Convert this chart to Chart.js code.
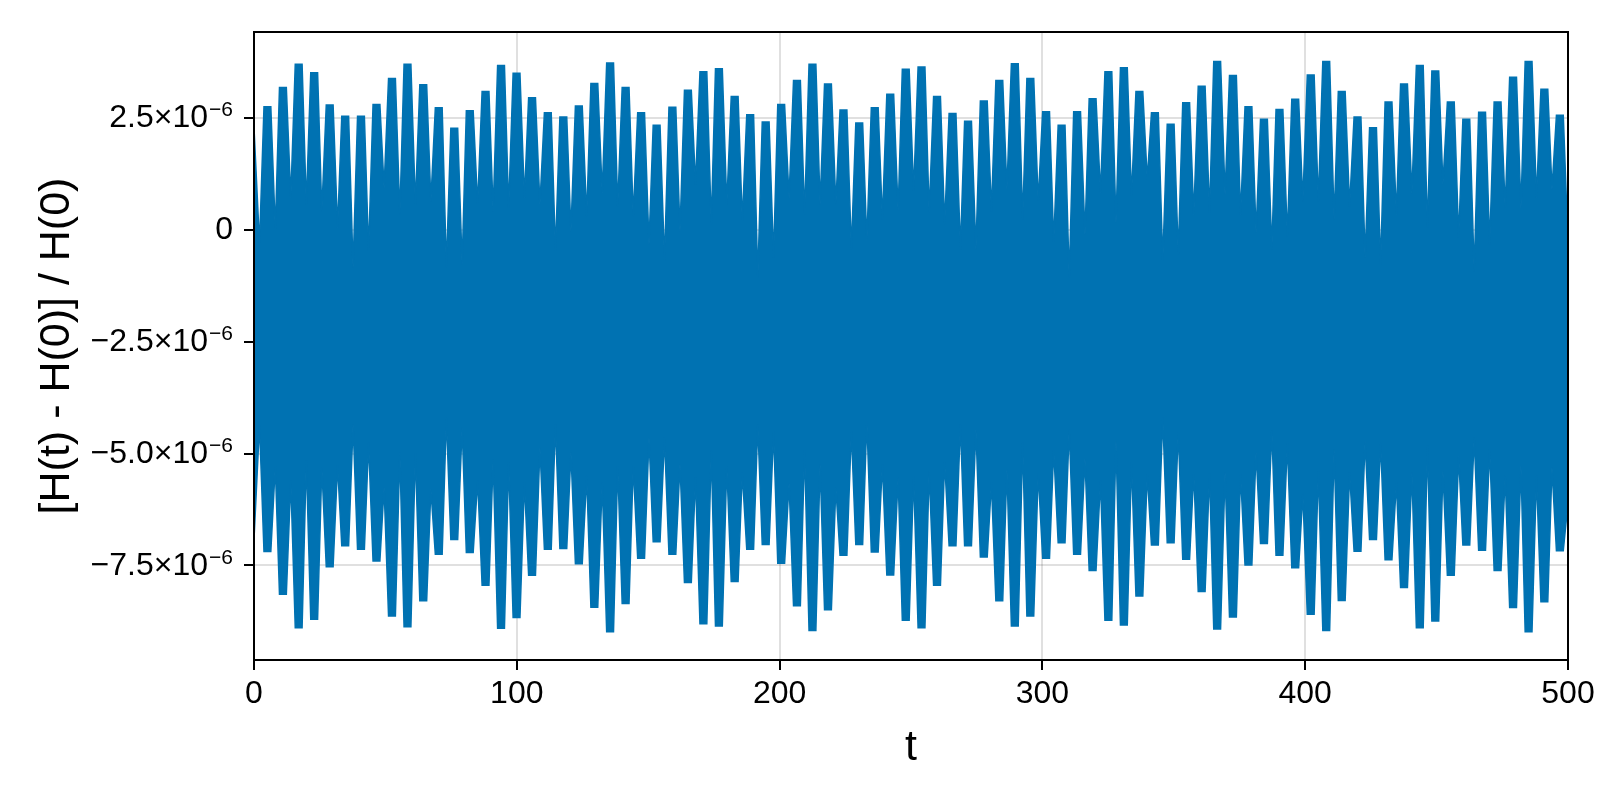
<!DOCTYPE html>
<html>
<head>
<meta charset="utf-8">
<script src="https://cdn.jsdelivr.net/npm/chart.js@4.4.1/dist/chart.umd.min.js"></script>
<style>
  html, body { margin: 0; padding: 0; background: #fff; }
  #wrap { width: 1600px; height: 800px; }
</style>
</head>
<body>
<div id="wrap"><canvas id="energy-chart" width="1600" height="800"></canvas></div>
<script>
// values in units of 1e-6
// teeth = the bursts of the fast oscillation, gaps = the notches between them
const toothT = [5.1, 11.0, 17.0, 22.9, 28.8, 34.7, 40.7, 46.6, 52.5, 58.4, 64.4, 70.3, 76.2, 82.1, 88.1, 94.0, 99.9, 105.8, 111.8, 117.7,
  123.6, 129.5, 135.5, 141.4, 147.3, 153.2, 159.2, 165.1, 171.0, 176.9, 182.9, 188.8, 194.7, 200.6, 206.6, 212.5, 218.4, 224.3, 230.3, 236.2, 242.1,
  248.0, 254.0, 259.9, 265.8, 271.7, 277.7, 283.6, 289.5, 295.4, 301.4, 307.3, 313.2, 319.1, 325.1, 331.0, 336.9, 342.8, 348.8, 354.7, 360.6, 366.5,
  372.5, 378.4, 384.3, 390.2, 396.2, 402.1, 408.0, 413.9, 419.9, 425.8, 431.7, 437.6, 443.6, 449.5, 455.4, 461.3, 467.3, 473.2, 479.1, 485.0, 491.0,
  496.9];

const toothTop = [2.74, 3.17, 3.69, 3.50, 2.78, 2.53, 2.53, 2.79, 3.37, 3.69, 3.23, 2.72, 2.26, 2.65, 3.08, 3.66, 3.49, 2.94, 2.61, 2.51,
  2.76, 3.26, 3.72, 3.17, 2.61, 2.33, 2.73, 3.11, 3.52, 3.59, 2.97, 2.56, 2.40, 2.79, 3.33, 3.69, 3.25, 2.67, 2.38, 2.72, 3.02,
  3.58, 3.63, 2.97, 2.59, 2.42, 2.87, 3.33, 3.70, 3.37, 2.63, 2.33, 2.63, 2.92, 3.52, 3.61, 3.08, 2.61, 2.35, 2.83, 3.20, 3.75,
  3.44, 2.74, 2.46, 2.68, 2.91, 3.45, 3.75, 3.08, 2.51, 2.27, 2.85, 3.25, 3.66, 3.54, 2.85, 2.46, 2.62, 2.85, 3.40, 3.75, 3.13,
  2.55];

const toothBottom = [-7.19, -8.14, -8.89, -8.70, -7.53, -7.06, -7.14, -7.40, -8.63, -8.87, -8.29, -7.25, -6.92, -7.21, -7.94, -8.90, -8.66, -7.72, -7.14, -7.12,
  -7.46, -8.43, -8.98, -8.35, -7.34, -6.97, -7.25, -7.88, -8.80, -8.85, -7.86, -7.14, -7.03, -7.45, -8.40, -8.95, -8.49, -7.27, -7.03, -7.20, -7.71,
  -8.72, -8.89, -7.94, -7.06, -7.06, -7.31, -8.29, -8.85, -8.63, -7.34, -6.99, -7.25, -7.61, -8.72, -8.83, -8.18, -7.04, -6.99, -7.36, -8.08, -8.92,
  -8.65, -7.49, -7.01, -7.27, -7.55, -8.59, -8.95, -8.28, -7.18, -6.92, -7.37, -7.99, -8.89, -8.74, -7.72, -7.04, -7.16, -7.61, -8.44, -8.98, -8.31,
  -7.17];

// gap times include both ends of the run (t = 0 and t = 500)
const gapT = [0, 2.1, 8.1, 14.0, 19.9, 25.8, 31.8, 37.7, 43.6, 49.5, 55.5, 61.4, 67.3, 73.2, 79.2, 85.1, 91.0, 96.9, 102.9, 108.8, 114.7,
  120.6, 126.6, 132.5, 138.4, 144.3, 150.3, 156.2, 162.1, 168.0, 174.0, 179.9, 185.8, 191.7, 197.7, 203.6, 209.5, 215.4, 221.4, 227.3, 233.2, 239.1,
  245.1, 251.0, 256.9, 262.8, 268.8, 274.7, 280.6, 286.5, 292.5, 298.4, 304.3, 310.2, 316.2, 322.1, 328.0, 333.9, 339.9, 345.8, 351.7, 357.6, 363.6,
  369.5, 375.4, 381.3, 387.3, 393.2, 399.1, 405.0, 411.0, 416.9, 422.8, 428.7, 434.7, 440.6, 446.5, 452.4, 458.4, 464.3, 470.2, 476.1, 482.1, 488.0,
  493.9, 500];

const gapTop = [2.27, -0.33, 0.00, 0.71, 0.56, 0.41, 0.04, -0.85, -0.48, 0.93, 0.33, 0.56, 0.63, -0.85, -0.78, 0.56, 0.41, 0.48, 0.71, 0.56, -0.48, -0.04,
  0.30, 0.82, 0.52, 0.30, -0.33, -0.70, -0.04, 1.01, 0.12, 0.56, 0.19, -1.08, -0.63, 0.71, 0.33, 0.56, 0.56, -0.44, -0.26, 0.23,
  0.41, 0.86, 0.38, 0.12, -0.44, -0.44, 0.41, 0.90, 0.23, 0.63, -0.29, -1.08, -0.11, 0.82, 0.15, 0.75, 1.12, -0.70, -0.55, 0.33, 0.38,
  0.79, 0.33, -0.07, -0.44, -0.15, 0.63, 0.63, 0.23, 0.52, -0.63, -0.78, 0.33, 0.81, 0.04, 1.01, -0.18, -0.93, -0.33, 0.48, 0.48, 0.71,
  0.90, -0.30];

const gapBottom = [-6.92, -4.35, -5.28, -5.61, -5.15, -5.30, -5.26, -4.35, -4.76, -5.76, -4.98, -5.00, -5.80, -4.20, -4.42, -5.60, -5.13, -5.20, -5.65, -4.87, -4.35, -4.98,
  -5.50, -5.65, -5.28, -5.28, -4.65, -4.65, -5.24, -5.54, -4.93, -5.28, -5.43, -4.35, -4.50, -5.67, -4.91, -5.24, -5.76, -4.50, -4.27, -5.24,
  -5.54, -5.50, -5.39, -5.18, -4.35, -4.46, -5.65, -5.35, -4.76, -5.43, -4.91, -4.46, -5.13, -5.61, -4.72, -5.20, -5.46, -4.19, -4.50, -5.43, -5.45,
  -5.43, -5.46, -4.97, -4.48, -4.78, -5.90, -5.38, -4.91, -5.43, -4.72, -4.76, -5.65, -5.43, -4.83, -5.39, -5.06, -4.65, -4.91, -5.50, -5.28, -5.50,
  -5.32, -6.10];

const xTicks = [0, 100, 200, 300, 400, 500];
const yTicks = [-7.5, -5, -2.5, 0, 2.5];
const yTickMant = ["\u22127.5\u00d710", "\u22125.0\u00d710", "\u22122.5\u00d710", "0", "2.5\u00d710"];
const yTickExp = ["\u22126", "\u22126", "\u22126", "", "\u22126"];

const blue = "rgb(0, 114, 178)";
const fam = "'Liberation Sans', Arimo, Arial, sans-serif";
const plateau = 1.3; // half width of the flat top of a tooth, in t

// one envelope: gap, tooth (flat top), gap, tooth ...
const buildEnvelope = (tops, gaps) => {
  const pts = [{ x: gapT[0], y: gaps[0] }];
  toothT.forEach((t, k) => {
    pts.push({ x: gapT[k + 1], y: gaps[k + 1] });
    pts.push({ x: t - plateau, y: tops[k] });
    pts.push({ x: t + plateau, y: tops[k] });
  });
  pts.push({ x: gapT[gapT.length - 1], y: gaps[gaps.length - 1] });
  return pts;
};

const upper = buildEnvelope(toothTop, gapTop);
const lower = buildEnvelope(toothBottom, gapBottom);

// frame on top of the data, like the reference
const framePlugin = {
  id: "frame",
  afterDatasetsDraw(chart) {
    const { ctx, chartArea: a } = chart;
    ctx.save();
    ctx.strokeStyle = "#000";
    ctx.lineWidth = 2;
    ctx.strokeRect(a.left, a.top, a.right - a.left, a.bottom - a.top);
    ctx.restore();
  },
};

// y tick labels with a raised exponent
const yLabelPlugin = {
  id: "yLabels",
  afterDraw(chart) {
    const { ctx } = chart;
    const y = chart.scales.y;
    const right = y.right - 10 - 11;
    ctx.save();
    ctx.fillStyle = "#000";
    ctx.textBaseline = "middle";
    yTicks.forEach((v, i) => {
      const py = y.getPixelForValue(v);
      ctx.font = `21px ${fam}`;
      const ew = yTickExp[i] ? ctx.measureText(yTickExp[i]).width + 1 : 0;
      ctx.font = `32px ${fam}`;
      ctx.textAlign = "right";
      ctx.fillText(yTickMant[i], right - ew, py + 1);
      if (yTickExp[i]) {
        ctx.font = `21px ${fam}`;
        ctx.textAlign = "left";
        ctx.fillText(yTickExp[i], right - ew + 1, py - 7);
      }
    });
    ctx.restore();
  },
};

const gridColor = "rgba(0, 0, 0, 0.12)";

new Chart(document.getElementById("energy-chart"), {
  type: "line",
  data: {
    datasets: [
      {
        data: upper,
        borderColor: blue,
        backgroundColor: blue,
        borderWidth: 1.5,
        pointRadius: 0,
        tension: 0,
        fill: false,
      },
      {
        data: lower,
        borderColor: blue,
        backgroundColor: blue,
        borderWidth: 1.5,
        pointRadius: 0,
        tension: 0,
        fill: "-1",
      },
    ],
  },
  options: {
    responsive: false,
    animation: false,
    devicePixelRatio: 1,
    parsing: false,
    normalized: true,
    layout: { padding: { top: 32, right: 32, left: 0, bottom: 0 } },
    plugins: {
      legend: { display: false },
      tooltip: { enabled: false },
    },
    scales: {
      x: {
        type: "linear",
        min: 0,
        max: 500,
        afterBuildTicks: (s) => {
          s.ticks = xTicks.map((v) => ({ value: v }));
        },
        afterFit: (s) => {
          s.height = 140;
        },
        ticks: {
          color: "#000",
          font: { family: fam, size: 32 },
          padding: 5,
          maxRotation: 0,
        },
        grid: {
          color: gridColor,
          lineWidth: 2,
          tickColor: "#000",
          tickLength: 10,
          tickWidth: 2,
        },
        border: { display: false },
        title: {
          display: true,
          text: "t",
          color: "#000",
          font: { family: fam, size: 43 },
          padding: { top: 0, bottom: 26 },
        },
      },
      y: {
        type: "linear",
        min: -9.61,
        max: 4.41,
        afterBuildTicks: (s) => {
          s.ticks = yTicks.map((v) => ({ value: v }));
        },
        afterFit: (s) => {
          s.width = 254;
        },
        ticks: { display: false },
        grid: {
          color: gridColor,
          lineWidth: 2,
          tickColor: "#000",
          tickLength: 10,
          tickWidth: 2,
        },
        border: { display: false },
        title: {
          display: true,
          text: "[H(t) - H(0)] / H(0)",
          color: "#000",
          font: { family: fam, size: 43 },
          padding: { top: 31, bottom: 0 },
        },
      },
    },
  },
  plugins: [framePlugin, yLabelPlugin],
});
</script>
</body>
</html>
